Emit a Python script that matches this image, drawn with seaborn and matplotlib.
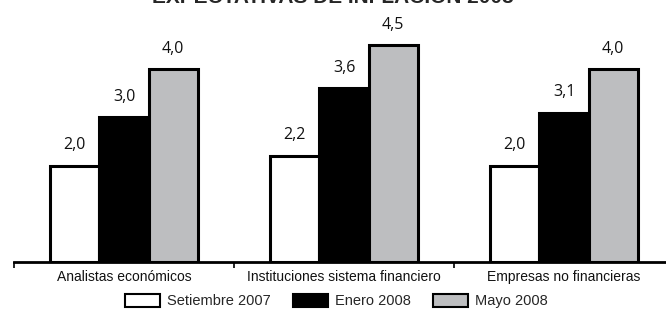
import matplotlib
matplotlib.use("Agg")
import matplotlib.pyplot as plt
from matplotlib.patches import Patch
import pandas as pd
import seaborn as sns

# Chart data
CATEGORIES = ["Analistas económicos", "Instituciones sistema financiero", "Empresas no financieras"]
SERIES = ["Setiembre 2007", "Enero 2008", "Mayo 2008"]
SET_2007 = [2.0, 2.2, 2.0]
ENE_2008 = [3.0, 3.6, 3.1]
MAY_2008 = [4.0, 4.5, 4.0]
COLORS = ["#ffffff", "#000000", "#bdbec0"]
TITLE = "EXPECTATIVAS DE INFLACIÓN 2008"

sns.set_theme(style="white")
plt.rcParams["font.family"] = ["Liberation Sans", "DejaVu Sans"]

rows = []
for serie, vals in zip(SERIES, [SET_2007, ENE_2008, MAY_2008]):
    for cat, v in zip(CATEGORIES, vals):
        rows.append({"Categoria": cat, "Serie": serie, "Valor": v})
df = pd.DataFrame(rows)

fig = plt.figure(figsize=(6.66, 3.15), dpi=100)
ax = fig.add_axes([14 / 666, 53 / 315, 660 / 666, 241 / 315])

sns.barplot(
    data=df, x="Categoria", y="Valor", hue="Serie",
    order=CATEGORIES, hue_order=SERIES, palette=COLORS,
    width=0.67, edgecolor="black", linewidth=2.2, ax=ax, legend=False,
)

# value labels with decimal comma
for cont in ax.containers:
    labels = [f"{b.get_height():.1f}".replace(".", ",") for b in cont]
    ax.bar_label(cont, labels=labels, padding=9, fontsize=11.5,
                 family=["Open Sans", "DejaVu Sans"], color="#111111")

ax.set_xlim(-0.5, 2.5)
ax.set_ylim(0, 5)
ax.set_xlabel("")
ax.set_ylabel("")
ax.set_yticks([])
for side in ["top", "right", "left"]:
    ax.spines[side].set_visible(False)
ax.spines["bottom"].set_linewidth(2)
ax.spines["bottom"].set_color("black")

ax.set_xticks(range(len(CATEGORIES)))
ax.set_xticklabels(CATEGORIES, fontsize=10, color="#111111")
ax.tick_params(axis="x", which="major", length=0, pad=6)
ax.set_xticks([-0.5, 0.5, 1.5], minor=True)
ax.tick_params(axis="x", which="minor", direction="out", length=4, width=1.2,
               color="black", bottom=True)

# title is cut off by the top edge in the reference
fig.text(0.5, 1 - 3 / 315, TITLE, ha="center", va="baseline", fontsize=15,
         fontweight="bold")

handles = [Patch(facecolor=c, edgecolor="black", linewidth=1.5) for c in COLORS]
fig.legend(handles, SERIES, loc="lower center", bbox_to_anchor=(0.505, -0.02), ncol=3,
           frameon=False, handlelength=2.4, handleheight=1.0,
           handletextpad=0.5, columnspacing=1.5,
           prop={"family": ["Liberation Sans", "DejaVu Sans"], "size": 10.5})

fig.savefig("out.png", dpi=100)
